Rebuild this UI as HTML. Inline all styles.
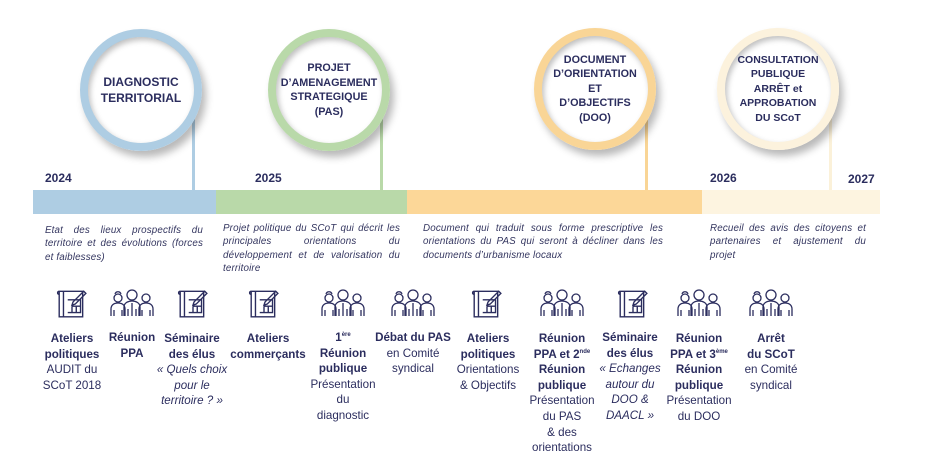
<!DOCTYPE html>
<html><head><meta charset="utf-8"><style>
*{margin:0;padding:0;box-sizing:border-box}
body{width:930px;height:471px;background:#fff;position:relative;overflow:hidden;font-family:"Liberation Sans",sans-serif;color:#2b2d5e}
.abs{position:absolute}
.circ{position:absolute;width:122px;height:122px;border-radius:50%;background:#fff;box-shadow:4px 6px 8px rgba(0,0,0,.28);display:flex;align-items:center;justify-content:center;text-align:center;font-weight:bold;font-size:11.5px;line-height:16px}
.circ::before{content:"";position:absolute;inset:0;border-radius:50%;border:8px solid var(--c)}
.circ::after{content:"";position:absolute;inset:8px;border-radius:50%;box-shadow:inset 2px 3px 6px rgba(0,0,0,.25)}
.circ span{position:relative;z-index:2}
.line{position:absolute;width:3px}
.yr{position:absolute;font-weight:bold;font-size:12px;top:171px}
.desc{position:absolute;font-style:italic;font-size:9.8px;letter-spacing:0.15px;line-height:13.3px;text-align:justify;text-align-last:left;color:#33355f}
.col{position:absolute;text-align:center;font-size:11.6px;line-height:15.6px;width:96px;margin-left:-48px}
.col b{font-weight:bold}
sup{font-size:6px;vertical-align:5px;line-height:0}
svg.ic{position:absolute}
</style></head><body>

<div class="line" style="left:192px;top:115px;height:76px;background:#aecde3"></div>
<div class="line" style="left:380px;top:115px;height:76px;background:#b9d9a9"></div>
<div class="line" style="left:645px;top:115px;height:76px;background:#f9d596"></div>
<div class="line" style="left:829px;top:115px;height:76px;background:#fbf1d9"></div>

<div class="circ" style="--c:#aecde3;left:80px;top:29px;font-size:12px"><span>DIAGNOSTIC<br>TERRITORIAL</span></div>
<div class="circ" style="--c:#b9d9a9;left:268px;top:29px;font-size:10.8px;line-height:14.5px"><span>PROJET<br>D’AMENAGEMENT<br>STRATEGIQUE<br>(PAS)</span></div>
<div class="circ" style="--c:#f9d596;left:534px;top:28px;font-size:10.8px;line-height:14.5px"><span>DOCUMENT<br>D’ORIENTATION<br>ET<br>D’OBJECTIFS<br>(DOO)</span></div>
<div class="circ" style="--c:#fcf2dd;left:717px;top:28px;font-size:10.5px;line-height:14.5px"><span>CONSULTATION<br>PUBLIQUE<br>ARRÊT et<br>APPROBATION<br>DU SCoT</span></div>

<div class="yr" style="left:45px">2024</div>
<div class="yr" style="left:255px">2025</div>
<div class="yr" style="left:710px">2026</div>
<div class="yr" style="left:848px;top:172px">2027</div>

<div class="abs" style="left:33px;top:190px;width:183px;height:24px;background:#aecde3"></div>
<div class="abs" style="left:216px;top:190px;width:191px;height:24px;background:#b9d9a9"></div>
<div class="abs" style="left:407px;top:190px;width:295px;height:24px;background:#fcd798"></div>
<div class="abs" style="left:702px;top:190px;width:178px;height:24px;background:#fdf4e0"></div>

<div class="desc" style="left:45px;top:224px;width:158px">Etat des lieux prospectifs du territoire et des évolutions (forces et faiblesses)</div>
<div class="desc" style="left:223px;top:222px;width:177px">Projet politique du SCoT qui décrit les principales orientations du développement et de valorisation du territoire</div>
<div class="desc" style="left:423px;top:222px;width:240px">Document qui traduit sous forme prescriptive les orientations du PAS qui seront à décliner dans les documents d’urbanisme locaux</div>
<div class="desc" style="left:710px;top:222px;width:156px">Recueil des avis des citoyens et partenaires et ajustement du projet</div>

<svg width="0" height="0" style="position:absolute"><defs>
<g id="plan" fill="none" stroke="#2b2d5e" stroke-width="1.3"><path d="M3 4h22v24H3zM3 4c-2 0-2 3 0 3M7 4v24M11 12h12v12H11M15 18h8M15 18v6M19 18v6"/><path d="M16 14l10-10 2 2-10 10-3 1z"/></g>
<g id="ppl" fill="none" stroke="#2b2d5e" stroke-width="1.3"><circle cx="9" cy="11" r="4"/><path d="M6 7c1-3 5-3 6 0"/><circle cx="23" cy="8" r="5"/><circle cx="37" cy="11" r="4"/><path d="M2 29v-7c0-4 3-6 7-6s7 2 7 6v7M5 23v6M13 23v6M15 29v-9c0-4 4-6 8-6s8 2 8 6v9M19 22v7M27 22v7M23 16v13M30 29v-7c0-4 3-6 7-6s7 2 7 6v7M33 23v6M41 23v6"/></g>
</defs></svg>

<svg class="ic" style="left:56px;top:287px" width="32" height="32" viewBox="0 0 30 30"><use href="#plan"/></svg>
<svg class="ic" style="left:109px;top:287px" width="46" height="31" viewBox="0 0 46 31"><use href="#ppl"/></svg>
<svg class="ic" style="left:177px;top:287px" width="32" height="32" viewBox="0 0 30 30"><use href="#plan"/></svg>
<svg class="ic" style="left:248px;top:287px" width="32" height="32" viewBox="0 0 30 30"><use href="#plan"/></svg>
<svg class="ic" style="left:320px;top:287px" width="46" height="31" viewBox="0 0 46 31"><use href="#ppl"/></svg>
<svg class="ic" style="left:390px;top:287px" width="46" height="31" viewBox="0 0 46 31"><use href="#ppl"/></svg>
<svg class="ic" style="left:471px;top:287px" width="32" height="32" viewBox="0 0 30 30"><use href="#plan"/></svg>
<svg class="ic" style="left:539px;top:287px" width="46" height="31" viewBox="0 0 46 31"><use href="#ppl"/></svg>
<svg class="ic" style="left:617px;top:287px" width="32" height="32" viewBox="0 0 30 30"><use href="#plan"/></svg>
<svg class="ic" style="left:676px;top:287px" width="46" height="31" viewBox="0 0 46 31"><use href="#ppl"/></svg>
<svg class="ic" style="left:748px;top:287px" width="46" height="31" viewBox="0 0 46 31"><use href="#ppl"/></svg>

<div class="col" style="left:72px;top:331px"><b>Ateliers<br>politiques</b><br>AUDIT du<br>SCoT 2018</div>
<div class="col" style="left:132px;top:330px"><b>Réunion<br>PPA</b></div>
<div class="col" style="left:192px;top:331px"><b>Séminaire<br>des élus</b><br><i>« Quels choix<br>pour le<br>territoire ? »</i></div>
<div class="col" style="left:268px;top:331px;width:110px;margin-left:-55px"><b>Ateliers<br>commerçants</b></div>
<div class="col" style="left:343px;top:330px"><b>1<sup>ère</sup><br>Réunion<br>publique</b><br>Présentation<br>du<br>diagnostic</div>
<div class="col" style="left:413px;top:330px;width:104px;margin-left:-52px"><b>Débat du PAS</b><br>en Comité<br>syndical</div>
<div class="col" style="left:488px;top:331px"><b>Ateliers<br>politiques</b><br>Orientations<br>&amp; Objectifs</div>
<div class="col" style="left:562px;top:331px"><b>Réunion<br>PPA et 2<sup>nde</sup><br>Réunion<br>publique</b><br>Présentation<br>du PAS<br>&amp; des<br>orientations</div>
<div class="col" style="left:630px;top:330px"><b>Séminaire<br>des élus</b><br><i>« Echanges<br>autour du<br>DOO &amp;<br>DAACL »</i></div>
<div class="col" style="left:699px;top:331px"><b>Réunion<br>PPA et 3<sup>ème</sup><br>Réunion<br>publique</b><br>Présentation<br>du DOO</div>
<div class="col" style="left:771px;top:331px"><b>Arrêt<br>du SCoT</b><br>en Comité<br>syndical</div>
</body></html>
